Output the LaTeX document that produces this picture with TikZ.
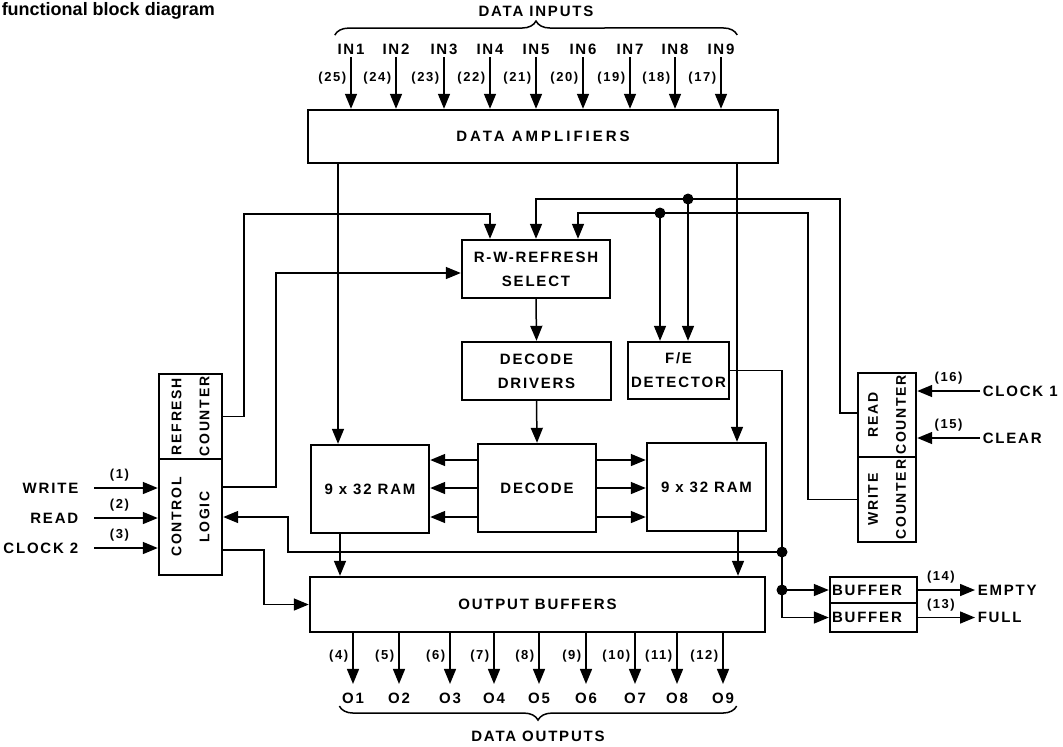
\documentclass[tikz,border=0pt]{standalone}
\usepackage{fontspec}
\setmainfont{Liberation Sans}
\newfontfamily\lblfont{Liberation Sans}[LetterSpace=12]
\newfontfamily\widefont{Liberation Sans}[LetterSpace=20]
\usetikzlibrary{arrows.meta,decorations.pathreplacing}

\begin{document}
\begin{tikzpicture}[x=.5pt,y=-.5pt,line width=.75pt,
  blk/.style={draw,line width=1.2pt,inner sep=0pt,align=center,font=\lblfont\bfseries\fontsize{7.5}{12}\selectfont},
  vblk/.style={blk,rotate=90,font=\lblfont\bfseries\fontsize{7}{14}\selectfont},
  lbl/.style={inner sep=1pt,font=\lblfont\bfseries\fontsize{7.5}{8}\selectfont},
  pin/.style={inner sep=2pt,font=\lblfont\bfseries\fontsize{6.5}{8}\selectfont},
  arr/.style={-{Triangle[length=7.5pt,width=6pt]}}]
\path[use as bounding box] (0,0) rectangle (1063,746);
\node[anchor=base west,inner sep=0pt,font=\bfseries\fontsize{9}{11}\selectfont] (title) at (1,15) {functional block diagram};

% blocks
\node[blk,minimum width=235pt,minimum height=26.5pt,font=\widefont\bfseries\fontsize{7.5}{12}\selectfont] (amp) at (543,136.5) {DATA AMPLIFIERS};
\node[blk,minimum width=74pt,minimum height=29pt] (rw) at (536,269) {R-W-REFRESH\\SELECT};
\node[blk,minimum width=74.5pt,minimum height=29pt] (drv) at (536.5,371) {DECODE\\DRIVERS};
\node[blk,minimum width=50.5pt,minimum height=28.5pt] (fe) at (678.5,370.5) {F/E\\DETECTOR};
\node[blk,minimum width=59pt,minimum height=44pt] (ramL) at (370,489) {9 x 32 RAM};
\node[blk,minimum width=59pt,minimum height=44pt] (dec) at (537,488) {DECODE};
\node[blk,minimum width=59.5pt,minimum height=44pt] (ramR) at (706.5,487) {9 x 32 RAM};
\node[blk,minimum width=227.5pt,minimum height=27.5pt] (obuf) at (537.5,604.5) {OUTPUT BUFFERS};
% rotated blocks: .south is the right side, .north the left side
\node[vblk,minimum width=42.5pt,minimum height=31.5pt] (rcnt) at (190.5,416.5) {REFRESH\\COUNTER};
\node[vblk,minimum width=58pt,minimum height=31.5pt] (ctl) at (190.5,517) {CONTROL\\LOGIC};
\node[vblk,minimum width=42pt,minimum height=29pt] (rdc) at (887,415) {READ\\COUNTER};
\node[vblk,minimum width=42.5pt,minimum height=29pt] (wrc) at (887,499.5) {WRITE\\COUNTER};
\node[blk,minimum height=13pt,text width=41.5pt,inner xsep=1pt,align=left] (bufE) at (873.5,590) {BUFFER};
\node[blk,minimum height=14.5pt,text width=41.5pt,inner xsep=1pt,align=left] (bufF) at (873.5,617.5) {BUFFER};

% data inputs and outputs
\foreach \i/\x/\p in {1/351/25,2/396/24,3/444/23,4/490/22,5/536/21,6/583/20,7/630/19,8/675/18,9/721/17}{
  \node[lbl] (in\i) at (\x,49) {IN\i};
  \draw[arr] (in\i.south) -- (in\i.south |- amp.north) node[pin,left,pos=.4] {(\p)};
}
\draw[decorate,decoration={brace,amplitude=7pt}] ([yshift=3pt]in1.north west) -- ([yshift=3pt]in9.north east) node[lbl,midway,above=8pt] (din) {DATA INPUTS};
\foreach \i/\x/\p in {1/353/4,2/399/5,3/450/6,4/494/7,5/539/8,6/586/9,7/635/10,8/677/11,9/723/12}{
  \node[lbl] (o\i) at (\x,698) {O\i};
  \draw[arr,shorten >=3pt] (o\i.north |- obuf.south) -- (o\i.north) node[pin,left,pos=.4] {(\p)};
}
\draw[decorate,decoration={brace,amplitude=7pt,mirror}] (o1.south west) -- (o9.south east) node[lbl,midway,below=11pt] (dout) {DATA OUTPUTS};

% control inputs
\foreach \n/\t/\p/\y in {wr/WRITE/1/488,rd/READ/2/518,ck/CLOCK 2/3/548}{
  \node[lbl,anchor=east] (\n) at (81,\y) {\t};
  \draw[arr,shorten <=6.5pt] (\n.east) -- (\n.east -| ctl.north) node[pin,above=1pt,pos=.5] {(\p)};
}
\node[lbl,anchor=west] (clk1) at (980,391) {CLOCK 1};
\node[lbl,anchor=west] (clr) at (980,438) {CLEAR};
\draw[arr] (clk1.west) -- (clk1.west -| rdc.south) node[pin,above=1pt,pos=.5] {(16)};
\draw[arr] (clr.west) -- (clr.west -| rdc.south) node[pin,above=1pt,pos=.5] {(15)};
\node[lbl,anchor=west] (empty) at (975,590) {EMPTY};
\node[lbl,anchor=west] (full) at (975,617.5) {FULL};
\draw[arr] (bufE.east) -- (empty.west) node[pin,above=1pt,pos=.4] {(14)};
\draw[arr] (bufF.east) -- (full.west) node[pin,above=1pt,pos=.4] {(13)};

% internal paths
\coordinate (jA) at (688,199);
\coordinate (jB) at (660,213);
\coordinate (jE) at (782,552);
\coordinate (jF) at (782,590);
\draw[arr] ([xshift=-16pt]ramL.north |- amp.south) -- ([xshift=-16pt]ramL.north);
\draw[arr] ([xshift=15.25pt]ramR.north |- amp.south) -- ([xshift=15.25pt]ramR.north);
\draw[arr] (rcnt.south) -- ++(21,0) |- ([xshift=-23pt,yshift=12.5pt]rw.north) -- ([xshift=-23pt]rw.north);
\draw[arr] ([yshift=15pt]ctl.south) -- ++(53,0) |- ([yshift=-2pt]rw.west);
\draw[arr] ([yshift=-16.5pt]ctl.south) -- ++(41,0) |- (obuf.west);
\draw[arr] ([yshift=1pt]rdc.north) -- ++(-17,0) |- (jA) -| (rw.north);
\draw[arr] (wrc.north) -- ++(-49,0) |- (jB) -| ([xshift=21pt]rw.north);
\draw[arr] (jA) -- (jA |- fe.north);
\draw[arr] (jB) -- (jB |- fe.north);
\draw[arr] (rw.south) -- (drv.north);
\draw[arr] (drv.south) -- (dec.north);
\foreach \s in {14,0,-14.5}{
  \draw[arr] ([yshift=\s pt]dec.west) -- ([yshift=\s pt]dec.west -| ramL.east);
  \draw[arr] ([yshift=\s pt]dec.east) -- ([yshift=\s pt]dec.east -| ramR.west);
}
\draw[arr] ([xshift=-15pt]ramL.south) -- ([xshift=-15pt]ramL.south |- obuf.north);
\draw[arr] ([xshift=15.75pt]ramR.south) -- ([xshift=15.75pt]ramR.south |- obuf.north);
\draw (fe.east) -| (jE);
\draw[arr] (jE) |- (bufF.west);
\draw[arr] (jF) -- (bufE.west);
\draw[arr] (jE) -- ++(-494,0) |- (ctl.south);
\foreach \j in {jA,jB,jE,jF} \fill (\j) circle (5.5);
\end{tikzpicture}
\end{document}
